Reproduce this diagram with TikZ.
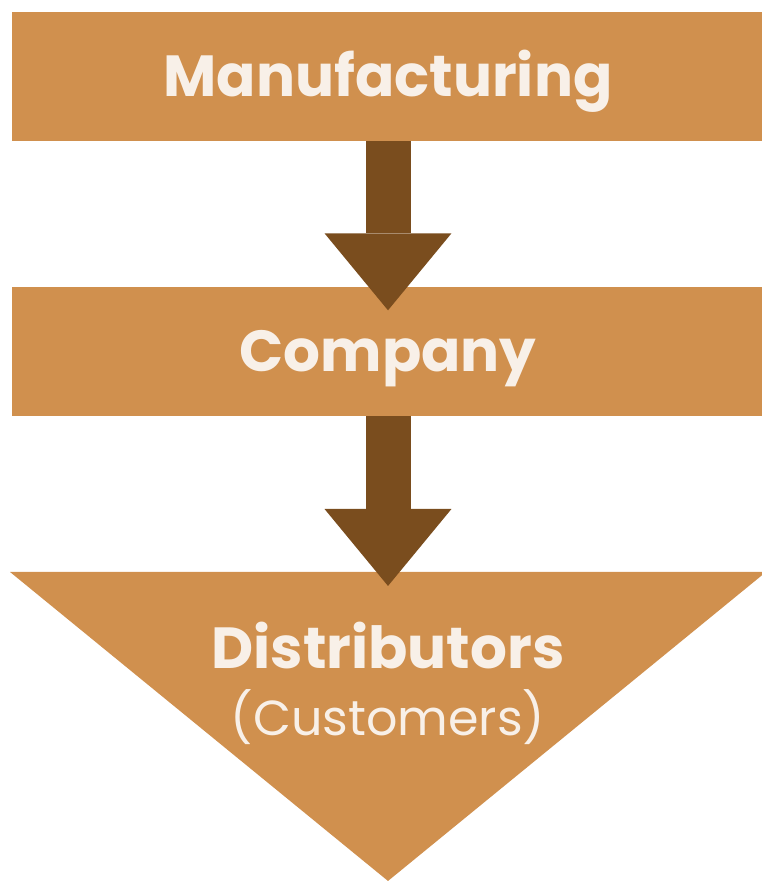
\documentclass[tikz,border=0pt]{standalone}
\usepackage{fontspec}
\setmainfont{Poppins}
\usetikzlibrary{positioning, arrows.meta, calc}
\definecolor{stagetan}{RGB}{208,144,78}
\definecolor{flowbrown}{RGB}{122,77,30}
\definecolor{labelcream}{RGB}{248,240,232}

\begin{document}
\begin{tikzpicture}[
    x=0.02cm, y=-0.02cm,
    node distance=2.9cm,
    stage/.style={rectangle, fill=stagetan, minimum width=15.04cm, minimum height=2.58cm, inner sep=0pt, text=labelcream, font=\fontsize{33}{40}\selectfont\bfseries, text height=0.8cm, text depth=0pt},
    caption/.style={anchor=base, inner sep=0pt, text=labelcream},
    flow/.style={draw=flowbrown, line width=0.9cm, -{Triangle[width=2.54cm, length=1.54cm, line width=0pt]}}
]
\useasboundingbox (0,0) rectangle (761,882);
\node[stage] (manu) at (388,76.5) {Manufacturing};
\node[stage, below=of manu] (comp) {Company};
\coordinate[below=3.12cm of comp] (dtop);
\fill[stagetan] ($(dtop)+(-378,0)$) -- ($(dtop)+(378,0)$) -- ($(dtop)+(0,309)$) -- cycle;
\node[caption, font=\fontsize{33}{40}\selectfont\bfseries] (dist) at ($(dtop)+(0,97)$) {Distributors};
\node[caption, font=\fontsize{28}{34}\selectfont] (cust) at ($(dist.base)+(0,67)$) {(Customers)};

\draw[flow, shorten >=-0.48cm] (manu) -- (comp);
\draw[flow, shorten >=-0.28cm] (comp) -- (dtop);
\end{tikzpicture}
\end{document}
